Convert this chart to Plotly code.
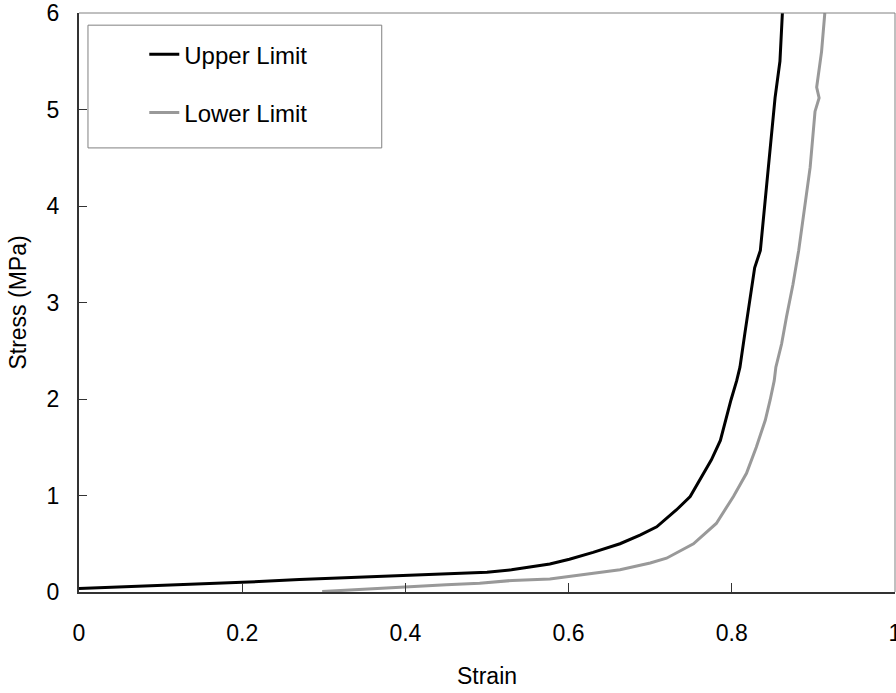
import plotly.graph_objects as go

# Upper Limit curve (strain, stress MPa)
upper_strain = [0.0, 0.1, 0.2, 0.27, 0.35, 0.42, 0.5, 0.53, 0.577, 0.601, 0.63, 0.663, 0.6875,
                0.708, 0.732, 0.749, 0.763, 0.775, 0.786, 0.793, 0.799, 0.806, 0.810, 0.816,
                0.822, 0.828, 0.835, 0.841, 0.845, 0.849, 0.853, 0.859, 0.862]
upper_stress = [0.035, 0.065, 0.10, 0.13, 0.155, 0.18, 0.205, 0.23, 0.29, 0.34, 0.41, 0.50, 0.59,
                0.675, 0.85, 0.99, 1.19, 1.37, 1.57, 1.81, 1.99, 2.19, 2.33, 2.68,
                3.02, 3.36, 3.54, 4.05, 4.40, 4.75, 5.12, 5.50, 6.0]

# Lower Limit curve (strain, stress MPa)
lower_strain = [0.298, 0.35, 0.401, 0.45, 0.491, 0.531, 0.577, 0.601, 0.663, 0.70, 0.720, 0.753,
                0.781, 0.802, 0.818, 0.830, 0.841, 0.847, 0.852, 0.854, 0.861, 0.867, 0.875,
                0.882, 0.890, 0.896, 0.902, 0.907, 0.904, 0.910, 0.914]
lower_stress = [0.005, 0.03, 0.055, 0.075, 0.09, 0.12, 0.135, 0.16, 0.23, 0.30, 0.35, 0.50,
                0.71, 0.99, 1.23, 1.50, 1.78, 1.99, 2.19, 2.33, 2.57, 2.85, 3.19,
                3.54, 4.05, 4.40, 4.98, 5.12, 5.23, 5.60, 6.0]

x_ticks = [0, 0.2, 0.4, 0.6, 0.8, 1]
x_tick_labels = ["0", "0.2", "0.4", "0.6", "0.8", "1"]
y_ticks = [0, 1, 2, 3, 4, 5, 6]

FONT = "Liberation Sans, Arial, sans-serif"

fig = go.Figure()
fig.add_trace(go.Scatter(x=upper_strain, y=upper_stress, mode="lines", name="Upper Limit",
                         legendgroup="u", line=dict(color="#000000", width=3)))
fig.add_trace(go.Scatter(x=lower_strain, y=lower_stress, mode="lines", name="Lower Limit",
                         legendgroup="l", line=dict(color="#999999", width=3)))

fig.update_layout(
    width=896, height=693,
    margin=dict(l=79, r=1, t=13, b=101),
    paper_bgcolor="white", plot_bgcolor="white",
    font=dict(family=FONT, size=23, color="#000000"),
    showlegend=True,
    legend=dict(x=0.080, y=0.967, xanchor="left", yanchor="top",
                bgcolor="rgba(0,0,0,0)", borderwidth=0,
                font=dict(size=24, family=FONT), tracegroupgap=24),
    xaxis=dict(range=[0, 1], tickvals=x_ticks, ticktext=x_tick_labels,
               showgrid=False, zeroline=False, showline=True, linecolor="#333333",
               linewidth=2, ticks="inside", ticklen=9, tickcolor="#333333", tickwidth=1,
               ticklabelstandoff=19, tickfont=dict(size=23), ticklabeloverflow="allow",
               automargin=False,
               title=dict(text="Strain", standoff=23, font=dict(size=23))),
    yaxis=dict(range=[0, 6], tickvals=y_ticks,
               showgrid=False, zeroline=False, showline=True, linecolor="#333333",
               linewidth=2, ticks="inside", ticklen=8, tickcolor="#333333", tickwidth=1,
               ticklabelstandoff=13, tickfont=dict(size=23), ticklabeloverflow="allow",
               automargin=False,
               title=dict(text="Stress (MPa)", standoff=14, font=dict(size=23))),
    shapes=[
        dict(type="line", xref="paper", yref="paper", x0=0, x1=1, y0=1, y1=1,
             line=dict(color="#808080", width=1)),
        dict(type="line", xref="paper", yref="paper", x0=1, x1=1, y0=0, y1=1,
             line=dict(color="#808080", width=1)),
        dict(type="rect", xref="paper", yref="paper", x0=0.011, x1=0.371, y0=0.767, y1=0.979,
             line=dict(color="#808080", width=1), fillcolor="rgba(0,0,0,0)"),
    ],
)

fig.write_html("out.html", config={"displayModeBar": False},
               post_script="document.body.style.margin='0';document.body.style.overflow='hidden';")
